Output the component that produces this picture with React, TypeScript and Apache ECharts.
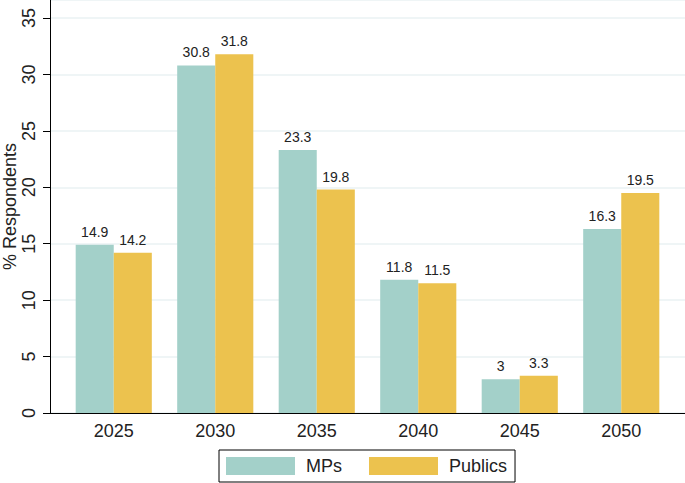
import React, { useEffect, useRef } from "react";
import * as echarts from "echarts";

const years = ["2025", "2030", "2035", "2040", "2045", "2050"];
const mps = [14.9, 30.8, 23.3, 11.8, 3, 16.3];
const publics = [14.2, 31.8, 19.8, 11.5, 3.3, 19.5];

const FONT = "'Liberation Sans', Arial, sans-serif";
const Y_MAX = 36.6;

const App: React.FC = () => {
  const chartRef = useRef<HTMLDivElement>(null);

  useEffect(() => {
    if (!chartRef.current) return;
    document.body.style.margin = "0";
    const chart = echarts.init(chartRef.current, null, { renderer: "svg" });

    const barLabel = {
      show: true,
      position: "top",
      distance: 6,
      color: "#222",
      fontSize: 14,
      fontFamily: FONT,
    };

    const option = {
      animation: false,
      textStyle: { fontFamily: FONT },
      grid: [
        { left: 63, right: 13, top: 0, bottom: 70, outerBoundsMode: "none" },
        { left: 50, right: 0, top: 0, bottom: 70, outerBoundsMode: "none" },
      ],
      legend: {
        left: 219,
        bottom: 1,
        data: ["MPs", "Publics"],
        itemWidth: 69,
        itemHeight: 18,
        itemGap: 27,
        padding: [7, 8, 7, 7],
        borderColor: "#000",
        borderWidth: 1,
        icon: "rect",
        textStyle: { fontSize: 18, color: "#222", fontFamily: FONT, padding: [0, 0, 0, 6] },
      },
      xAxis: [
        {
          type: "category",
          gridIndex: 0,
          data: years,
          axisLine: { show: false },
          axisTick: { show: false },
          axisLabel: { fontSize: 18, color: "#222", margin: 9, fontFamily: FONT },
        },
        {
          type: "value",
          gridIndex: 1,
          min: 0,
          max: 1,
          axisLine: { show: true, onZero: false, lineStyle: { color: "#000", width: 1 } },
          axisTick: { show: false },
          axisLabel: { show: false },
          splitLine: { show: false },
        },
      ],
      yAxis: [
        {
          type: "value",
          gridIndex: 0,
          min: 0,
          max: Y_MAX,
          interval: 5,
          show: false,
          splitLine: { show: false },
        },
        {
          type: "value",
          gridIndex: 1,
          min: 0,
          max: Y_MAX,
          interval: 5,
          name: "% Respondents",
          nameLocation: "middle",
          nameGap: 31,
          nameMoveOverlap: false,
          nameTextStyle: { fontSize: 18, lineHeight: 18, color: "#222", fontFamily: FONT },
          axisLine: { show: true, onZero: false, lineStyle: { color: "#000", width: 1 } },
          axisTick: { show: true, length: 7, lineStyle: { color: "#000" } },
          axisLabel: {
            rotate: 90,
            fontSize: 18,
            color: "#222",
            margin: 12,
            showMaxLabel: false,
            fontFamily: FONT,
            formatter: (v: number) => (v % 5 === 0 ? String(v) : ""),
          },
          splitLine: { show: true, lineStyle: { color: "#eaf2f3", width: 1.5 } },
        },
      ],
      series: [
        {
          name: "MPs",
          type: "bar",
          xAxisIndex: 0,
          yAxisIndex: 0,
          data: mps,
          barGap: "0%",
          barCategoryGap: "25%",
          itemStyle: { color: "#a3d0c9" },
          label: barLabel,
        },
        {
          name: "Publics",
          type: "bar",
          xAxisIndex: 0,
          yAxisIndex: 0,
          data: publics,
          barGap: "0%",
          barCategoryGap: "25%",
          itemStyle: { color: "#ecc24e" },
          label: barLabel,
        },
      ],
    };

    chart.setOption(option);
    return () => {
      chart.dispose();
    };
  }, []);

  return <div ref={chartRef} style={{ width: 685, height: 483 }} />;
};

export default App;
